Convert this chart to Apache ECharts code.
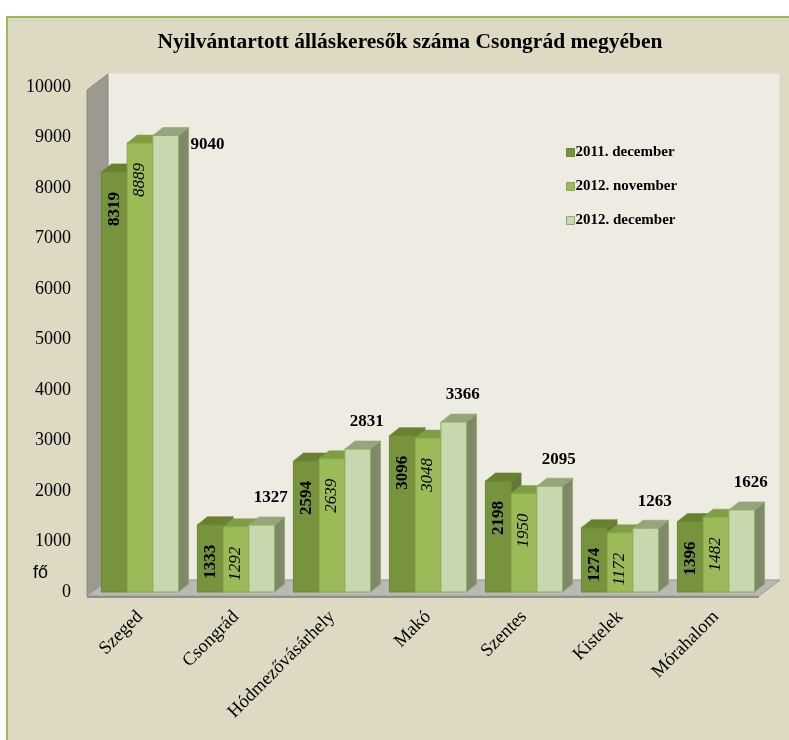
<!DOCTYPE html>
<html>
<head>
<meta charset="utf-8">
<script src="https://cdn.jsdelivr.net/npm/echarts@6/dist/echarts.min.js"></script>
<style>html,body{margin:0;padding:0;background:#fff}#c{width:789px;height:740px}</style>
</head>
<body>
<div id="c"></div>
<script>
// ---- data ----
var categories = ['Szeged', 'Csongrád', 'Hódmezővásárhely', 'Makó', 'Szentes', 'Kistelek', 'Mórahalom'];
var seriesNames = ['2011. december', '2012. november', '2012. december'];
var dec2011 = [8319, 1333, 2594, 3096, 2198, 1274, 1396];
var nov2012 = [8889, 1292, 2639, 3048, 1950, 1172, 1482];
var dec2012 = [9040, 1327, 2831, 3366, 2095, 1263, 1626];
var yMin = 0, yMax = 10000, yStep = 1000;

// ---- layout / style ----
var G = { left: 92, right: 25, top: 87, bottom: 148 };
var W = 789, H = 740;
var DX = 10, DY = 8;          // bar depth
var WDX = 21, WDY = 16;       // wall depth
var BAR_RATIO = 0.268;
var SERIF = '"Liberation Serif", "Times New Roman", serif';
var styles = [
  { front: '#77933C', top: '#66822F', side: '#61793A', stroke: '#6A8535' },
  { front: '#9BBB59', top: '#7F9D44', side: '#7A8F55', stroke: '#86A64A' },
  { front: '#C8D8AE', top: '#96A47F', side: '#7E8A67', stroke: '#8FAB5E' }
];
var allData = [dec2011, nov2012, dec2012];

function makeRender(si) {
  return function (params, api) {
    var ci = api.value(0), v = api.value(1);
    var top = api.coord([ci, v]);
    var base = api.coord([ci, 0]);
    var band = api.size([1, 0])[0];
    var w = band * BAR_RATIO;
    var x = top[0] - 1.5 * w + si * w;
    var yT = top[1], yB = base[1];
    var st = styles[si];
    var children = [
      { type: 'polygon', shape: { points: [[x + w, yT], [x + w + DX, yT - DY], [x + w + DX, yB - DY], [x + w, yB]] },
        style: { fill: st.side, stroke: st.stroke, lineWidth: 0.6 } },
      { type: 'polygon', shape: { points: [[x, yT], [x + DX, yT - DY], [x + w + DX, yT - DY], [x + w, yT]] },
        style: { fill: st.top, stroke: st.stroke, lineWidth: 0.6 } },
      { type: 'rect', shape: { x: x, y: yT, width: w, height: yB - yT },
        style: { fill: st.front, stroke: st.stroke, lineWidth: 1 } }
    ];
    var txt = String(v);
    if (si === 0 || si === 1) {
      children.push({ type: 'text', x: x + w / 2, y: yT + 20, rotation: Math.PI / 2,
        style: { text: txt, fill: '#000', align: 'right', verticalAlign: 'middle',
          font: (si === 0 ? 'bold ' : 'italic ') + '17px ' + SERIF } });
    } else {
      if (v > 0.85 * yMax) {
        children.push({ type: 'text', x: x + w + DX + 2, y: yT + 9,
          style: { text: txt, fill: '#000', align: 'left', verticalAlign: 'middle', font: 'bold 17px ' + SERIF } });
      } else {
        children.push({ type: 'text', x: x + w / 2 + 9, y: yT - 27,
          style: { text: txt, fill: '#000', align: 'center', verticalAlign: 'middle', font: 'bold 17px ' + SERIF } });
      }
    }
    return { type: 'group', children: children };
  };
}

var gL = G.left, gR = W - G.right, gT = G.top, gB = H - G.bottom;
var wallX0 = gL - 5, floorY = gB + 4;

var chart = echarts.init(document.getElementById('c'), null, { renderer: 'canvas' });
chart.setOption({
  backgroundColor: '#ffffff',
  animation: false,
  title: {
    text: 'Nyilvántartott álláskeresők száma Csongrád megyében',
    left: 405, top: 26, textAlign: 'center',
    textStyle: { fontFamily: SERIF, fontWeight: 'bold', fontSize: 21.5, color: '#000' }
  },
  legend: {
    orient: 'vertical', left: 561, top: 140, itemWidth: 8, itemHeight: 8, itemGap: 19,
    icon: 'rect',
    textStyle: { fontFamily: SERIF, fontWeight: 'bold', fontSize: 15, color: '#000', padding: [0, 0, 0, -4] },
    data: seriesNames.map(function (n, i) {
      return { name: n, itemStyle: { color: styles[i].front, borderColor: styles[i].stroke, borderWidth: 1 } };
    })
  },
  graphic: [
    { type: 'rect', z: -10, shape: { x: 7, y: 17, width: 800, height: 740 },
      style: { fill: '#DDD9C3', stroke: '#9BBB59', lineWidth: 2 } },
    { type: 'rect', z: -9, shape: { x: wallX0 + WDX, y: gT - 14, width: W - 9 - (wallX0 + WDX), height: floorY - WDY - (gT - 14) },
      style: { fill: '#EEECE2', stroke: '#D8D6CC', lineWidth: 1 } },
    { type: 'polygon', z: -8, shape: { points: [[wallX0, gT + 3], [wallX0 + WDX, gT + 3 - WDY], [wallX0 + WDX, floorY - WDY], [wallX0, floorY]] },
      style: { fill: '#9C998F', stroke: '#8E8B82', lineWidth: 1 } },
    { type: 'polygon', z: -7, shape: { points: [[wallX0, floorY], [wallX0 + WDX, floorY - WDY], [W - 9, floorY - WDY], [W - 9 - WDX, floorY]] },
      style: { fill: '#B9B9B3', stroke: '#9A9A96', lineWidth: 1 } },
    { type: 'rect', z: -7, shape: { x: wallX0, y: floorY, width: W - 9 - WDX - wallX0, height: 2 },
      style: { fill: '#8F8F8B' } },
    { type: 'text', left: 33, top: 564,
      style: { text: 'fő', font: '18px "Liberation Sans", Arial, sans-serif', fill: '#000' } }
  ],
  grid: { left: G.left, right: G.right, top: G.top, bottom: G.bottom, containLabel: false },
  xAxis: {
    type: 'category', data: categories,
    axisLine: { show: false }, axisTick: { show: false }, splitLine: { show: false },
    axisLabel: { rotate: 45, margin: 22, interval: 0, fontFamily: SERIF, fontSize: 18.5, color: '#000' }
  },
  yAxis: {
    type: 'value', min: yMin, max: yMax, interval: yStep,
    axisLine: { show: false }, axisTick: { show: false }, splitLine: { show: false },
    axisLabel: { margin: 21, fontFamily: SERIF, fontSize: 18, color: '#000',
      formatter: function (v) { return String(v); } }
  },
  series: seriesNames.map(function (n, si) {
    return {
      type: 'custom', name: n, renderItem: makeRender(si),
      itemStyle: { color: styles[si].front },
      encode: { x: 0, y: 1 },
      data: allData[si].map(function (v, i) { return [i, v]; }),
      clip: false
    };
  })
});
</script>
</body>
</html>
